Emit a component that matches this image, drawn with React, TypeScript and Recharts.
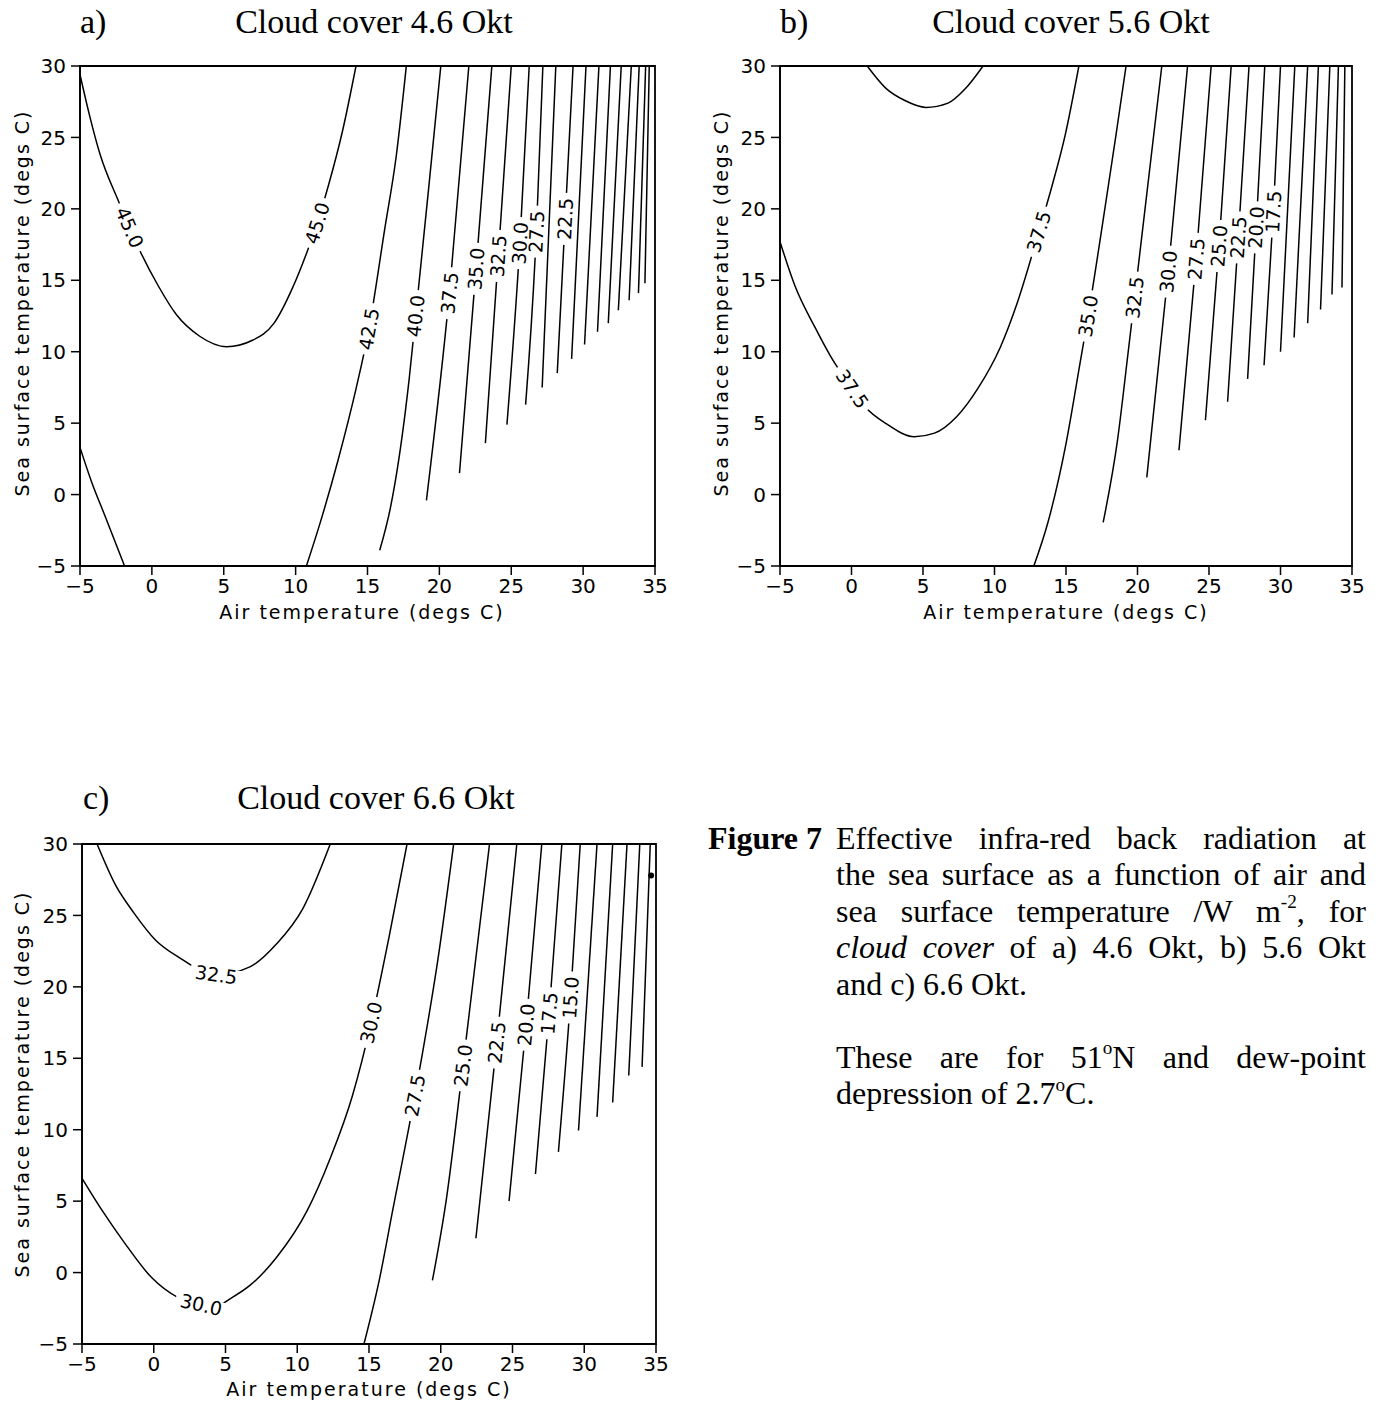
import { LineChart, Line, XAxis, YAxis, ReferenceArea, ReferenceDot } from 'recharts';

type Pt = [number, number];
type Contour = { level: string; pts: Pt[]; labels: number[] };

// Axis ticks shared by all three panels (air temp on x, sea surface temp on y).
const X_TICKS = [-5, 0, 5, 10, 15, 20, 25, 30, 35];
const Y_TICKS = [-5, 0, 5, 10, 15, 20, 25, 30];

// ---- a) cloud cover 4.6 Okt : contour polylines [airT, seaT]
const A_45: Pt[] = [
  [-5, 29.4], [-4.35, 26.6], [-3.6, 23.8], [-2.35, 20.6], [-1.55, 18.7], [-0.8, 17.0],
  [0.45, 14.6], [1.7, 12.6], [3.3, 11.1], [5.2, 10.35], [7.0, 10.8], [8.5, 12.0],
  [9.8, 14.5], [10.8, 17.0], [11.5, 19.0], [12.3, 21.7], [13.25, 25.4], [14.2, 30],
];
const A_47: Pt[] = [[-5, 3.3], [-4.2, 0.9], [-3.3, -1.4], [-1.9, -5]];
const A_42: Pt[] = [[10.75, -5], [11.7, -2.0], [12.95, 2.4], [14.2, 7.4], [15.1, 11.6], [16.2, 18.6], [17.0, 23.7], [17.7, 30]];
const A_40: Pt[] = [[15.85, -3.9], [16.6, -0.9], [17.3, 3.3], [17.9, 8.1], [18.35, 12.5], [19.25, 21.4], [20.1, 30]];
const A_37: Pt[] = [[19.1, -0.4], [20.7, 14.1], [22.05, 30]];
const A_35: Pt[] = [[21.4, 1.5], [22.55, 15.8], [23.65, 30]];
const A_32: Pt[] = [[23.2, 3.6], [24.1, 16.7], [25.0, 30]];
const A_30: Pt[] = [[24.7, 4.9], [25.6, 17.6], [26.25, 30]];
const A_27: Pt[] = [[26.0, 6.3], [26.75, 18.4], [27.2, 30]];
const A_25: Pt[] = [[27.15, 7.5], [28.1, 30]];
const A_22: Pt[] = [[28.2, 8.5], [28.75, 19.3], [29.3, 30]];
const A_20: Pt[] = [[29.2, 9.5], [30.2, 30]];
const A_17: Pt[] = [[30.1, 10.5], [31.1, 30]];
const A_15: Pt[] = [[31.0, 11.4], [31.9, 30]];
const A_12: Pt[] = [[31.75, 12.0], [32.65, 30]];
const A_10: Pt[] = [[32.45, 12.9], [33.35, 30]];
const A_07: Pt[] = [[33.2, 13.6], [33.9, 30]];
const A_05: Pt[] = [[33.85, 14.1], [34.35, 30]];
const A_02: Pt[] = [[34.3, 14.8], [34.6, 30]];

// ---- b) cloud cover 5.6 Okt
const B_40: Pt[] = [[1.1, 30], [2.45, 28.4], [3.7, 27.6], [5.2, 27.1], [6.75, 27.4], [7.95, 28.4], [9.2, 30]];
const B_37: Pt[] = [
  [-5, 17.7], [-3.95, 14.6], [-2.55, 11.7], [-1.5, 9.75], [0.05, 7.4], [0.95, 6.15],
  [2.45, 4.95], [4.4, 4.05], [5.8, 4.3], [7.35, 5.45], [8.85, 7.45], [10.4, 10.3],
  [11.6, 13.45], [13.1, 18.4], [14.05, 21.7], [14.95, 25.2], [15.9, 30],
];
const B_35: Pt[] = [[12.75, -5], [13.75, -1.9], [14.95, 3.3], [16.0, 9.3], [16.55, 12.5], [17.7, 19.9], [18.5, 25.2], [19.2, 30]];
const B_32: Pt[] = [[17.6, -1.95], [18.6, 3.8], [19.35, 10.0], [19.8, 13.8], [21.7, 30]];
const B_30: Pt[] = [[20.65, 1.2], [22.15, 15.6], [23.5, 30]];
const B_27: Pt[] = [[22.9, 3.1], [24.1, 16.5], [25.15, 30]];
const B_25: Pt[] = [[24.75, 5.2], [25.7, 17.4], [26.55, 30]];
const B_22: Pt[] = [[26.3, 6.5], [27.05, 18.0], [27.8, 30]];
const B_20: Pt[] = [[27.7, 8.1], [28.3, 18.7], [28.9, 30]];
const B_17: Pt[] = [[28.85, 9.05], [29.5, 19.8], [30.0, 30]];
const B_15: Pt[] = [[30.0, 10.0], [31.0, 30]];
const B_12: Pt[] = [[30.95, 11.0], [31.9, 30]];
const B_10: Pt[] = [[31.9, 12.0], [32.65, 30]];
const B_07: Pt[] = [[32.8, 12.95], [33.45, 30]];
const B_05: Pt[] = [[33.6, 14.0], [34.05, 30]];
const B_02: Pt[] = [[34.3, 14.5], [34.5, 30]];

// ---- c) cloud cover 6.6 Okt
const C_32: Pt[] = [
  [-3.95, 30], [-2.65, 27.1], [-1.4, 25.2], [0.15, 23.25], [1.7, 22.1], [4.35, 20.85],
  [6.7, 21.4], [8.55, 23.0], [10.4, 25.5], [12.3, 30],
];
const C_30: Pt[] = [
  [-5, 6.6], [-3.6, 4.35], [-2.05, 2.1], [-0.15, -0.35], [1.7, -1.75], [3.3, -2.25],
  [4.3, -2.35], [5.45, -1.75], [6.7, -0.9], [8.55, 1.05], [10.7, 4.35], [12.3, 8.0],
  [13.85, 12.4], [15.15, 17.5], [16.4, 23.5], [17.65, 30],
];
const C_27: Pt[] = [[14.65, -5], [15.7, -0.6], [16.65, 4.35], [18.2, 12.4], [18.7, 15.2], [19.8, 21.9], [20.9, 30]];
const C_25: Pt[] = [[19.42, -0.55], [20.4, 5.2], [21.55, 14.5], [23.4, 30]];
const C_22: Pt[] = [[22.45, 2.4], [23.9, 16.1], [25.3, 30]];
const C_20: Pt[] = [[24.76, 5.0], [25.95, 17.35], [27.04, 30]];
const C_17: Pt[] = [[26.6, 6.9], [27.55, 18.15], [28.44, 30]];
const C_15: Pt[] = [[28.2, 8.45], [29.05, 19.25], [29.72, 30]];
const C_12: Pt[] = [[29.6, 9.95], [30.89, 30]];
const C_10: Pt[] = [[30.89, 10.9], [31.98, 30]];
const C_07: Pt[] = [[31.98, 11.9], [32.98, 30]];
const C_05: Pt[] = [[33.1, 13.8], [33.87, 30]];
const C_02: Pt[] = [[34.03, 14.4], [34.6, 30]];
const C_SPECK: Pt = [34.66, 27.8];

// labels = indices into pts where the contour value is written
const PANEL_A: Contour[] = [
  { level: '45.0', pts: A_45, labels: [4, 14] },
  { level: '47.5', pts: A_47, labels: [] },
  { level: '42.5', pts: A_42, labels: [4] },
  { level: '40.0', pts: A_40, labels: [4] },
  { level: '37.5', pts: A_37, labels: [1] },
  { level: '35.0', pts: A_35, labels: [1] },
  { level: '32.5', pts: A_32, labels: [1] },
  { level: '30.0', pts: A_30, labels: [1] },
  { level: '27.5', pts: A_27, labels: [1] },
  { level: '25.0', pts: A_25, labels: [] },
  { level: '22.5', pts: A_22, labels: [1] },
  { level: '20.0', pts: A_20, labels: [] },
  { level: '17.5', pts: A_17, labels: [] },
  { level: '15.0', pts: A_15, labels: [] },
  { level: '12.5', pts: A_12, labels: [] },
  { level: '10.0', pts: A_10, labels: [] },
  { level: '7.5', pts: A_07, labels: [] },
  { level: '5.0', pts: A_05, labels: [] },
  { level: '2.5', pts: A_02, labels: [] },
];

const PANEL_B: Contour[] = [
  { level: '40.0', pts: B_40, labels: [] },
  { level: '37.5', pts: B_37, labels: [4, 13] },
  { level: '35.0', pts: B_35, labels: [4] },
  { level: '32.5', pts: B_32, labels: [3] },
  { level: '30.0', pts: B_30, labels: [1] },
  { level: '27.5', pts: B_27, labels: [1] },
  { level: '25.0', pts: B_25, labels: [1] },
  { level: '22.5', pts: B_22, labels: [1] },
  { level: '20.0', pts: B_20, labels: [1] },
  { level: '17.5', pts: B_17, labels: [1] },
  { level: '15.0', pts: B_15, labels: [] },
  { level: '12.5', pts: B_12, labels: [] },
  { level: '10.0', pts: B_10, labels: [] },
  { level: '7.5', pts: B_07, labels: [] },
  { level: '5.0', pts: B_05, labels: [] },
  { level: '2.5', pts: B_02, labels: [] },
];

const PANEL_C: Contour[] = [
  { level: '32.5', pts: C_32, labels: [5] },
  { level: '30.0', pts: C_30, labels: [5, 13] },
  { level: '27.5', pts: C_27, labels: [3] },
  { level: '25.0', pts: C_25, labels: [2] },
  { level: '22.5', pts: C_22, labels: [1] },
  { level: '20.0', pts: C_20, labels: [1] },
  { level: '17.5', pts: C_17, labels: [1] },
  { level: '15.0', pts: C_15, labels: [1] },
  { level: '12.5', pts: C_12, labels: [] },
  { level: '10.0', pts: C_10, labels: [] },
  { level: '7.5', pts: C_07, labels: [] },
  { level: '5.0', pts: C_05, labels: [] },
  { level: '2.5', pts: C_02, labels: [] },
];

const SANS = '"DejaVu Sans", Verdana, sans-serif';
const SERIF = '"Liberation Serif", "Times New Roman", serif';
const LABEL_FONT = 19;
const AXIS_TICK = { fill: '#000', fontSize: 20, fontFamily: SANS } as const;
const AXIS_STROKE = { stroke: '#000', strokeWidth: 1.5 } as const;
const M_TOP = 20;
const M_LEFT = 60; // y-axis band

function tickFmt(v: number): string {
  return v < 0 ? `\u2212${-v}` : String(v);
}

// direction of the contour at a labelled point, in screen degrees
function labelAngle(pts: Pt[], i: number, kx: number, ky: number): number {
  const a = pts[Math.max(0, i - 1)];
  const b = pts[Math.min(pts.length - 1, i + 1)];
  let dx = (b[0] - a[0]) * kx;
  let dy = -(b[1] - a[1]) * ky;
  if (dx < 0) {
    dx = -dx;
    dy = -dy;
  }
  return (Math.atan2(dy, dx) * 180) / Math.PI;
}

function makeDot(c: Contour, kx: number, ky: number) {
  return (props: any) => {
    const { cx, cy, index } = props;
    if (!c.labels.includes(index) || cx == null || cy == null) return <g key={`n${index}`} />;
    const ang = labelAngle(c.pts, index, kx, ky);
    const w = c.level.length * 0.58 * LABEL_FONT;
    return (
      <g key={`l${index}`} transform={`translate(${cx},${cy}) rotate(${ang})`}>
        <rect x={-w / 2 - 4} y={-7} width={w + 8} height={14} fill="#fff" />
        <text x={0} y={0} dy="0.36em" textAnchor="middle" fontSize={LABEL_FONT} fontFamily={SANS} fill="#000">
          {c.level}
        </text>
      </g>
    );
  };
}

type PanelProps = {
  contours: Contour[];
  left: number;
  top: number;
  plotW: number;
  plotH: number;
  specks?: Pt[];
};

function ContourPanel({ contours, left, top, plotW, plotH, specks = [] }: PanelProps) {
  const kx = plotW / 40;
  const ky = plotH / 35;
  return (
    <div style={{ position: 'absolute', left: left - M_LEFT, top: top - M_TOP }}>
      <LineChart width={M_LEFT + plotW + 24} height={M_TOP + plotH + 40} margin={{ top: M_TOP, right: 24, bottom: 0, left: 0 }}>
        <XAxis
          type="number"
          dataKey="x"
          domain={[-5, 35]}
          ticks={X_TICKS}
          interval={0}
          allowDataOverflow
          tickFormatter={tickFmt}
          height={40}
          tickSize={9}
          tickMargin={4}
          tick={AXIS_TICK}
          axisLine={AXIS_STROKE}
          tickLine={AXIS_STROKE}
        />
        <YAxis
          type="number"
          domain={[-5, 30]}
          ticks={Y_TICKS}
          interval={0}
          allowDataOverflow
          tickFormatter={tickFmt}
          width={M_LEFT}
          tickSize={9}
          tickMargin={5}
          tick={AXIS_TICK}
          axisLine={AXIS_STROKE}
          tickLine={AXIS_STROKE}
        />
        <ReferenceArea x1={-5} x2={35} y1={-5} y2={30} fill="none" fillOpacity={0} stroke="#000" strokeWidth={1.8} ifOverflow="visible" />
        {contours.map((c, ci) => (
          <Line
            key={`${c.level}-${ci}`}
            data={c.pts.map(([x, y]) => ({ x, y }))}
            dataKey="y"
            type="monotone"
            stroke="#000"
            strokeWidth={1.5}
            dot={c.labels.length ? makeDot(c, kx, ky) : false}
            activeDot={false}
            isAnimationActive={false}
          />
        ))}
        {specks.map(([x, y]) => (
          <ReferenceDot key={`s${x}`} x={x} y={y} r={3} fill="#000" stroke="none" />
        ))}
      </LineChart>
    </div>
  );
}

const titleStyle = { position: 'absolute' as const, fontFamily: SERIF, fontSize: 34, lineHeight: '34px', whiteSpace: 'nowrap' as const };
const axisTitle = { position: 'absolute' as const, fontFamily: SANS, fontSize: 19, lineHeight: '19px', letterSpacing: 2, whiteSpace: 'nowrap' as const };
const justify = { textAlign: 'justify' as const, textAlignLast: 'justify' as const };
const sup = { fontSize: '0.6em', position: 'relative' as const, top: '-0.7em', lineHeight: 0 };

function PanelText({ tag, title, plotLeft, titleX, titleTop, yTitleX, yTitleY, xTitleX, xTitleY }: any) {
  return (
    <>
      <div style={{ ...titleStyle, left: plotLeft, top: titleTop }}>{tag}</div>
      <div style={{ ...titleStyle, left: titleX, top: titleTop, transform: 'translateX(-50%)' }}>{title}</div>
      <div style={{ ...axisTitle, left: yTitleX, top: yTitleY, transform: 'translate(-50%, -50%) rotate(-90deg)' }}>
        Sea surface temperature (degs C)
      </div>
      <div style={{ ...axisTitle, left: xTitleX, top: xTitleY, transform: 'translate(-50%, -50%)' }}>
        Air temperature (degs C)
      </div>
    </>
  );
}

export default function App() {
  return (
    <div style={{ position: 'absolute', left: 0, top: 0, width: 1383, height: 1404, background: '#fff', overflow: 'hidden' }}>
      <ContourPanel contours={PANEL_A} left={80} top={66} plotW={575} plotH={500} />
      <ContourPanel contours={PANEL_B} left={780} top={66} plotW={572} plotH={500} />
      <ContourPanel contours={PANEL_C} left={82} top={844} plotW={574} plotH={500} specks={[C_SPECK]} />

      <PanelText tag="a)" title="Cloud cover 4.6 Okt" plotLeft={80} titleX={374} titleTop={4.5}
        yTitleX={22} yTitleY={303} xTitleX={362} xTitleY={612} />
      <PanelText tag="b)" title="Cloud cover 5.6 Okt" plotLeft={780} titleX={1071} titleTop={4.5}
        yTitleX={721} yTitleY={303} xTitleX={1066} xTitleY={612} />
      <PanelText tag="c)" title="Cloud cover 6.6 Okt" plotLeft={83} titleX={376} titleTop={781}
        yTitleX={22} yTitleY={1084} xTitleX={369} xTitleY={1389} />

      <div style={{ position: 'absolute', left: 708, top: 819.5, fontFamily: SERIF, fontWeight: 'bold', fontSize: 32, lineHeight: '36.5px' }}>
        Figure 7
      </div>
      <div style={{ position: 'absolute', left: 836, top: 819.5, width: 530, fontFamily: SERIF, fontSize: 32, lineHeight: '36.5px' }}>
        <div style={justify}>Effective infra-red back radiation at</div>
        <div style={justify}>the sea surface as a function of air and</div>
        <div style={justify}>
          sea surface temperature /W m<span style={sup}>-2</span>, for
        </div>
        <div style={justify}>
          <i>cloud cover</i> of a) 4.6 Okt, b) 5.6 Okt
        </div>
        <div>and c) 6.6 Okt.</div>
        <div>&nbsp;</div>
        <div style={justify}>
          These are for 51<span style={sup}>o</span>N and dew-point
        </div>
        <div>
          depression of 2.7<span style={sup}>o</span>C.
        </div>
      </div>
    </div>
  );
}
